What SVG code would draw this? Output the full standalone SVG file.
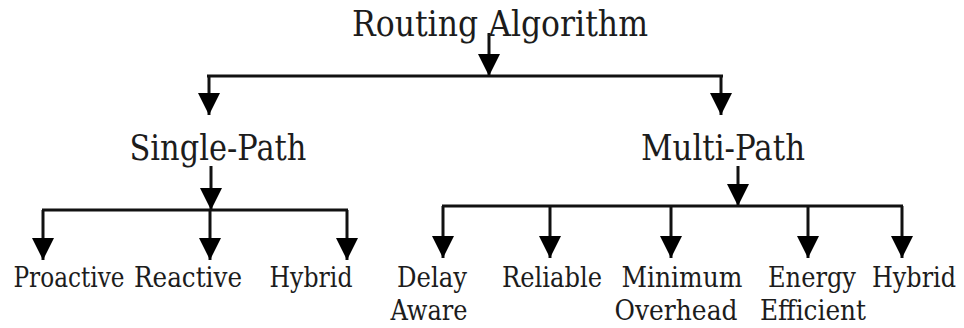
<svg xmlns="http://www.w3.org/2000/svg" width="964" height="328" viewBox="0 0 964 328">
  <style>
    .lvl1 { font-size: 35px; }
    .lvl2 { font-size: 28px; }
    .wire { fill: none; stroke: #111; stroke-width: 3; }
    .arrow { fill: none; stroke: #111; stroke-width: 3; marker-end: url(#head); }
  </style>
  <defs>
    <marker id="head" markerUnits="userSpaceOnUse" viewBox="0 0 22 22" refX="22" refY="11" markerWidth="22" markerHeight="22" orient="auto">
      <path d="M0,0 L22,11 L0,22 z" fill="#000"/>
    </marker>
  </defs>

  <!-- tree connectors -->
  <g id="connectors">
    <!-- root -->
    <line class="arrow" x1="489" y1="33" x2="489" y2="76"/>
    <line class="wire" x1="207" y1="76" x2="723" y2="76"/>
    <line class="arrow" x1="209" y1="76" x2="209" y2="115"/>
    <line class="arrow" x1="721" y1="76" x2="721" y2="115"/>
    <!-- single-path branch -->
    <line class="arrow" x1="211" y1="166" x2="211" y2="210"/>
    <line class="wire" x1="42" y1="210" x2="348" y2="210"/>
    <line class="arrow" x1="43" y1="210" x2="43" y2="260"/>
    <line class="arrow" x1="210" y1="210" x2="210" y2="260"/>
    <line class="arrow" x1="347" y1="210" x2="347" y2="260"/>
    <!-- multi-path branch -->
    <line class="arrow" x1="738" y1="166" x2="738" y2="206"/>
    <line class="wire" x1="442" y1="206" x2="903" y2="206"/>
    <line class="arrow" x1="443" y1="206" x2="443" y2="258"/>
    <line class="arrow" x1="550" y1="206" x2="550" y2="258"/>
    <line class="arrow" x1="671" y1="206" x2="671" y2="258"/>
    <line class="arrow" x1="808" y1="206" x2="808" y2="258"/>
    <line class="arrow" x1="902" y1="206" x2="902" y2="258"/>
  </g>

  <g font-family="'DejaVu Serif', 'Liberation Serif', serif" fill="#1c1c1c" text-anchor="middle">
    <g id="routing-algorithm"><text class="lvl1" x="500" y="36" textLength="296" lengthAdjust="spacingAndGlyphs">Routing Algorithm</text></g>
    <g id="single-path"><text class="lvl1" x="218" y="160" textLength="177" lengthAdjust="spacingAndGlyphs">Single-Path</text></g>
    <g id="multi-path"><text class="lvl1" x="723" y="160" textLength="164" lengthAdjust="spacingAndGlyphs">Multi-Path</text></g>

    <g id="proactive"><text class="lvl2" x="69" y="287" textLength="111" lengthAdjust="spacingAndGlyphs">Proactive</text></g>
    <g id="reactive"><text class="lvl2" x="188" y="287" textLength="108" lengthAdjust="spacingAndGlyphs">Reactive</text></g>
    <g id="hybrid-single"><text class="lvl2" x="311" y="287" textLength="83" lengthAdjust="spacingAndGlyphs">Hybrid</text></g>

    <g id="delay-aware">
      <text class="lvl2" x="432" y="287" textLength="70" lengthAdjust="spacingAndGlyphs">Delay</text>
      <text class="lvl2" x="429" y="320" textLength="77" lengthAdjust="spacingAndGlyphs">Aware</text>
    </g>
    <g id="reliable"><text class="lvl2" x="552" y="287" textLength="100" lengthAdjust="spacingAndGlyphs">Reliable</text></g>
    <g id="minimum-overhead">
      <text class="lvl2" x="682" y="287" textLength="121" lengthAdjust="spacingAndGlyphs">Minimum</text>
      <text class="lvl2" x="676" y="320" textLength="123" lengthAdjust="spacingAndGlyphs">Overhead</text>
    </g>
    <g id="energy-efficient">
      <text class="lvl2" x="812" y="287" textLength="88" lengthAdjust="spacingAndGlyphs">Energy</text>
      <text class="lvl2" x="813" y="320" textLength="106" lengthAdjust="spacingAndGlyphs">Efficient</text>
    </g>
    <g id="hybrid-multi"><text class="lvl2" x="914" y="287" textLength="84" lengthAdjust="spacingAndGlyphs">Hybrid</text></g>
  </g>
</svg>
